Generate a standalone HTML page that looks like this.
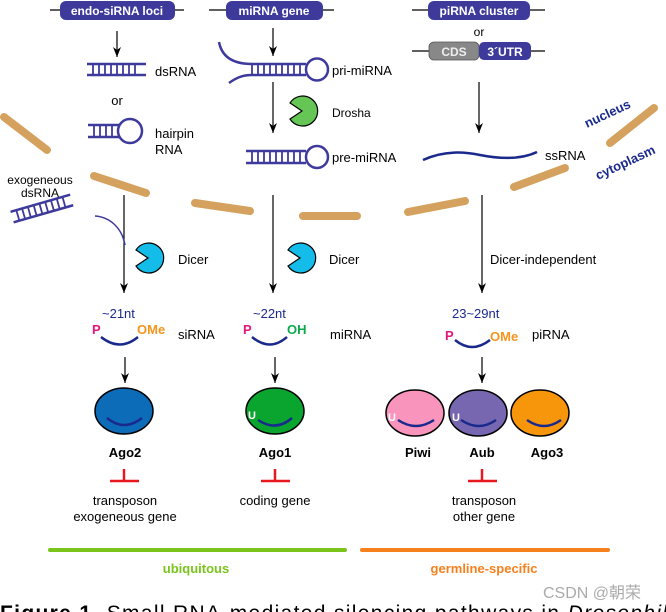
<!DOCTYPE html>
<html><head><meta charset="utf-8"><style>
body{margin:0;background:#fff;width:666px;height:612px;overflow:hidden}
svg{display:block}
text{font-family:"Liberation Sans",Arial,sans-serif}
</style></head><body>
<svg width="666" height="612" viewBox="0 0 666 612" xmlns="http://www.w3.org/2000/svg">
<defs>
<marker id="ah" markerWidth="10" markerHeight="8" refX="10" refY="4" orient="auto" markerUnits="userSpaceOnUse">
<path d="M0,0 L10,4 L0,8 L3,4 Z" fill="#000"/></marker>
</defs>
<!-- membrane -->
<g stroke="#d4a25e" stroke-width="8" stroke-linecap="round" fill="none">
<line x1="4" y1="117" x2="47" y2="150"/>
<line x1="94" y1="176" x2="146" y2="193"/>
<line x1="195" y1="203" x2="250" y2="211"/>
<line x1="303" y1="216" x2="357" y2="216"/>
<line x1="408" y1="212" x2="465" y2="201"/>
<line x1="514" y1="187" x2="565" y2="168"/>
<line x1="610" y1="143" x2="654" y2="108"/>
</g>
<text x="587" y="128" font-size="13" font-weight="bold" fill="#1a2a8c" transform="rotate(-25 587 128)">nucleus</text>
<text x="598" y="180" font-size="13" font-weight="bold" fill="#1a2a8c" transform="rotate(-25 598 180)">cytoplasm</text>

<!-- top boxes -->
<g stroke="#000" stroke-width="1.2">
<line x1="50" y1="10" x2="184" y2="10"/>
<line x1="209" y1="10" x2="334" y2="10"/>
<line x1="412" y1="10" x2="545" y2="10"/>
<line x1="412" y1="51" x2="545" y2="51"/>
</g>
<rect x="60" y="1" width="115" height="19" rx="6" fill="#3d3a9c"/>
<text x="117" y="15" font-size="12" font-weight="bold" fill="#fff" text-anchor="middle">endo-siRNA loci</text>
<rect x="226" y="1" width="97" height="19" rx="6" fill="#3d3a9c"/>
<text x="274" y="15" font-size="12" font-weight="bold" fill="#fff" text-anchor="middle">miRNA gene</text>
<rect x="428" y="1" width="102" height="19" rx="6" fill="#3d3a9c"/>
<text x="479" y="15" font-size="12" font-weight="bold" fill="#fff" text-anchor="middle">piRNA cluster</text>
<text x="479" y="36" font-size="12" fill="#000" text-anchor="middle">or</text>
<rect x="429" y="42" width="50" height="18" rx="5" fill="#888" stroke="#555" stroke-width="0.8"/>
<text x="454" y="56" font-size="12" font-weight="bold" fill="#eee" text-anchor="middle">CDS</text>
<rect x="479" y="42" width="52" height="18" rx="5" fill="#3d3a9c"/>
<text x="505" y="56" font-size="12" font-weight="bold" fill="#fff" text-anchor="middle">3´UTR</text>

<!-- arrows -->
<g stroke="#000" stroke-width="1.2" marker-end="url(#ah)">
<line x1="117" y1="31" x2="117" y2="57"/>
<line x1="273" y1="28" x2="273" y2="56"/>
<line x1="273" y1="82" x2="273" y2="133"/>
<line x1="479" y1="82" x2="479" y2="133"/>
<line x1="124" y1="195" x2="124" y2="293"/>
<line x1="273" y1="195" x2="273" y2="293"/>
<line x1="482" y1="195" x2="482" y2="293"/>
<line x1="125" y1="357" x2="125" y2="383"/>
<line x1="275" y1="357" x2="275" y2="383"/>
<line x1="482" y1="357" x2="482" y2="383"/>
</g>

<!-- dsRNA -->
<g stroke="#3d3a9c" stroke-width="2.5" fill="none">
<line x1="87" y1="64" x2="146" y2="64"/><line x1="87" y1="75" x2="146" y2="75"/>
<path d="M93,64V75M99,64V75M105,64V75M111,64V75M117,64V75M123,64V75M129,64V75M135,64V75" stroke-width="1.8"/>
<path d="M88,125H119 M88,137H119"/>
<path d="M94,125V137M100,125V137M106,125V137M112,125V137" stroke-width="1.8"/>
<circle cx="130" cy="131" r="12"/>
<path d="M219,42 C222,58 235,64 252,64 H306"/>
<path d="M229,83 C236,78 242,75 252,75 H306"/>
<path d="M252,64V75M258,64V75M264,64V75M270,64V75M276,64V75M282,64V75M288,64V75M294,64V75M300,64V75" stroke-width="1.8"/>
<circle cx="317" cy="69.5" r="11"/>
<path d="M246,151H306 M246,163H306"/>
<path d="M252,151V163M258,151V163M264,151V163M270,151V163M276,151V163M282,151V163M288,151V163M294,151V163M300,151V163" stroke-width="1.8"/>
<circle cx="317" cy="157" r="11"/>
<g transform="rotate(-16 42 209)">
<path d="M11,203H73 M11,214H73"/>
<path d="M17,203V214M23,203V214M29,203V214M35,203V214M41,203V214M47,203V214M53,203V214M59,203V214M65,203V214" stroke-width="1.8"/>
</g>
<path d="M95,216 C110,217 122,228 125,245" stroke-width="1.5"/>
</g>
<path d="M423,160 C445,150 465,152 480,155 C500,159 520,160 537,152" stroke="#1a2a8c" stroke-width="2.5" fill="none"/>

<g font-size="13" fill="#000">
<text x="155" y="76">dsRNA</text>
<text x="117" y="105" text-anchor="middle">or</text>
<text x="155" y="138">hairpin</text>
<text x="155" y="154">RNA</text>
<text x="332" y="75">pri-miRNA</text>
<text x="332" y="117" font-size="12">Drosha</text>
<text x="332" y="162">pre-miRNA</text>
<text x="545" y="160">ssRNA</text>
<text x="40" y="184" text-anchor="middle" font-size="12">exogeneous</text>
<text x="40" y="197" text-anchor="middle" font-size="12">dsRNA</text>
<text x="178" y="264">Dicer</text>
<text x="329" y="264">Dicer</text>
<text x="490" y="264">Dicer-independent</text>
</g>

<path d="M302,111 L290,103 A15,15 0 1 1 290,119 Z" fill="#66c655" stroke="#000" stroke-width="1.2"/>
<path d="M148,258 L136,250 A15,15 0 1 1 136,266 Z" fill="#14bde9" stroke="#000" stroke-width="1.2"/>
<path d="M300,258 L288,250 A15,15 0 1 1 288,266 Z" fill="#14bde9" stroke="#000" stroke-width="1.2"/>

<g font-size="13">
<text x="102" y="318" fill="#1a2a8c">~21nt</text>
<text x="253" y="318" fill="#1a2a8c">~22nt</text>
<text x="452" y="318" fill="#1a2a8c">23~29nt</text>
<text x="92" y="334" fill="#e6177a" font-weight="bold">P</text>
<text x="137" y="334" fill="#f7941d" font-weight="bold">OMe</text>
<text x="178" y="339" fill="#000">siRNA</text>
<text x="243" y="334" fill="#e6177a" font-weight="bold">P</text>
<text x="287" y="334" fill="#0aab4b" font-weight="bold">OH</text>
<text x="330" y="339" fill="#000">miRNA</text>
<text x="445" y="340" fill="#e6177a" font-weight="bold">P</text>
<text x="490" y="341" fill="#f7941d" font-weight="bold">OMe</text>
<text x="532" y="339" fill="#000">piRNA</text>
</g>
<g stroke="#1a2a8c" stroke-width="2.5" fill="none">
<path d="M101,337 Q120,352 138,337"/>
<path d="M252,337 Q270,352 287,337"/>
<path d="M455,340 Q472,354 490,340"/>
</g>

<g stroke="#000" stroke-width="1.5">
<ellipse cx="124" cy="411" rx="29" ry="23" fill="#0c6cb8"/>
<ellipse cx="275" cy="411" rx="29" ry="23" fill="#0aa52e"/>
<ellipse cx="415" cy="413" rx="29" ry="23" fill="#f994bd"/>
<ellipse cx="478" cy="413" rx="29" ry="23" fill="#7766b0"/>
<ellipse cx="540" cy="413" rx="29" ry="23" fill="#f7960a"/>
</g>
<g stroke="#1a2a8c" stroke-width="2.5" fill="none">
<path d="M107,418 Q124,432 142,418"/>
<path d="M258,420 Q276,432 292,418"/>
<path d="M398,420 Q416,432 434,420"/>
<path d="M461,420 Q479,432 496,420"/>
<path d="M527,420 Q544,432 561,420"/>
</g>
<g fill="#fff" font-size="11" font-weight="bold">
<text x="248" y="419">U</text><text x="388" y="421">U</text><text x="452" y="421">U</text>
</g>
<g font-size="13" font-weight="bold" text-anchor="middle" fill="#000">
<text x="125" y="457">Ago2</text><text x="275" y="457">Ago1</text>
<text x="418" y="457">Piwi</text><text x="482" y="457">Aub</text><text x="547" y="457">Ago3</text>
</g>
<g stroke="#e8191e" stroke-width="2.5">
<line x1="124" y1="469" x2="124" y2="481"/><line x1="110" y1="481" x2="139" y2="481"/>
<line x1="275" y1="469" x2="275" y2="481"/><line x1="261" y1="481" x2="290" y2="481"/>
<line x1="482" y1="469" x2="482" y2="481"/><line x1="468" y1="481" x2="497" y2="481"/>
</g>
<g font-size="13" text-anchor="middle" fill="#000">
<text x="125" y="505">transposon</text><text x="125" y="521">exogeneous gene</text>
<text x="275" y="505">coding gene</text>
<text x="484" y="505">transposon</text><text x="484" y="521">other gene</text>
</g>
<line x1="50" y1="550" x2="345" y2="550" stroke="#7ac41c" stroke-width="4" stroke-linecap="round"/>
<line x1="362" y1="550" x2="608" y2="550" stroke="#f7801e" stroke-width="4" stroke-linecap="round"/>
<text x="196" y="573" font-size="13" font-weight="bold" fill="#7ac41c" text-anchor="middle">ubiquitous</text>
<text x="484" y="573" font-size="13" font-weight="bold" fill="#f7801e" text-anchor="middle">germline-specific</text>
<text x="543" y="598" font-size="16" fill="#aaa" font-family="'Liberation Sans','Noto Sans CJK SC',sans-serif">CSDN @朝荣</text>
<text x="0" y="620" font-size="21" font-family="'Liberation Serif',serif" fill="#000" textLength="680" lengthAdjust="spacing"><tspan font-weight="bold">Figure 1.</tspan> Small RNA-mediated silencing pathways in <tspan font-style="italic">Drosophila</tspan></text>
</svg>
</body></html>
